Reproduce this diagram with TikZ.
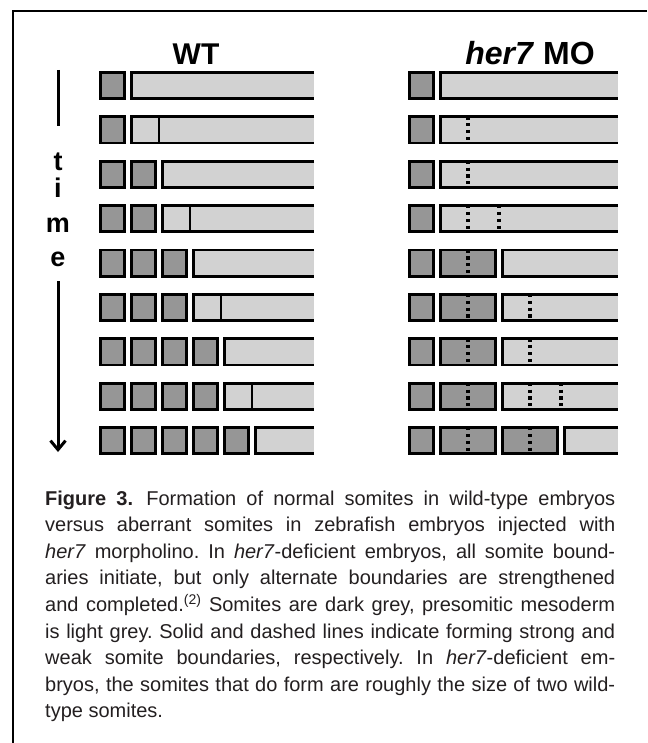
\documentclass[tikz,border=0pt]{standalone}
\usepackage{fontspec}
\setmainfont{Liberation Sans}
\usetikzlibrary{arrows.meta}
\definecolor{somitegrey}{RGB}{150,150,150}
\definecolor{psmgrey}{RGB}{210,210,210}
\definecolor{captext}{RGB}{35,31,32}
\begin{document}
\begin{tikzpicture}[x=1pt,y=-1pt,
  somitebox/.style={draw=black,line width=2.8pt,fill=somitegrey},
  psmline/.style={line width=2.8pt},
  weakline/.style={line width=3.2pt,dash pattern=on 3.2pt off 3.6pt},
  timeline/.style={line width=3pt},
  head/.style={font=\bfseries\fontsize{30}{30}\selectfont,anchor=base,inner sep=0pt},
  letter/.style={font=\bfseries\fontsize{27}{27}\selectfont,anchor=base,inner sep=0pt}]
\useasboundingbox (0,0) rectangle (647,743);
\draw[line width=2.5pt] (647,11) -- (13,11) -- (13,743);
\node[head] (wt) at (196,65) {WT};
\node[head,font=\bfseries\fontsize{32}{32}\selectfont] (mo) at (530,65) {\textit{her7} MO};
\node[letter] (lt) at (58,171) {t};
\node[letter] (li) at (58,198) {i};
\node[letter] (lm) at (58,232) {m};
\node[letter] (le) at (58,266) {e};
\coordinate (top) at (58,70);
\coordinate (topend) at (58,126);
\coordinate (arrstart) at (58,281);
\coordinate (arrend) at (58,452);
\draw[timeline] (top) -- (topend);
\draw[timeline,-{Straight Barb[length=9pt,width=15pt]}] (arrstart) -- (arrend);
\foreach \row in {0,...,8}{
  \pgfmathtruncatemacro\ns{int(\row/2)+1}
  \pgfmathsetmacro\yt{71+44.4*\row}
  \foreach \k in {1,...,\ns}
    \draw[somitebox] ({99+31*(\k-1)+1.4},\yt+1.4) rectangle +(24.2,26.2);
  \pgfmathsetmacro\xs{99+31*\ns}
  \fill[psmgrey] (\xs+1.4,\yt+1.4) rectangle (314,\yt+27.6);
  \draw[psmline] (314,\yt+1.4) -- (\xs+1.4,\yt+1.4) -- (\xs+1.4,\yt+27.6) -- (314,\yt+27.6);
  \ifodd\row
    \draw[psmline] (\xs+29,\yt+1.4) -- +(0,26.2);
  \fi
}
\foreach \row/\nd/\nw in {0/0/0,1/0/1,2/0/1,3/0/2,4/1/0,5/1/1,6/1/1,7/1/2,8/2/0}{
  \pgfmathsetmacro\yt{71+44.4*\row}
  \draw[somitebox] (409.4,\yt+1.4) rectangle +(24.2,26.2);
  \ifnum\nd>0
    \foreach \j in {1,...,\nd}{
      \pgfmathsetmacro\xd{408+31*(2*\j-1)}
      \draw[somitebox] (\xd+1.4,\yt+1.4) rectangle +(55.2,26.2);
      \draw[weakline] (\xd+29,\yt+1) -- +(0,27);
    }
  \fi
  \pgfmathsetmacro\xs{408+31*(2*\nd+1)}
  \fill[psmgrey] (\xs+1.4,\yt+1.4) rectangle (618,\yt+27.6);
  \draw[psmline] (618,\yt+1.4) -- (\xs+1.4,\yt+1.4) -- (\xs+1.4,\yt+27.6) -- (618,\yt+27.6);
  \ifnum\nw>0
    \foreach \m in {1,...,\nw}
      \draw[weakline] (\xs+31*\m-2,\yt+1) -- +(0,27);
  \fi
}
\node[anchor=north west,text width=570pt,align=justify,inner sep=0pt,text=captext,
  font=\fontsize{20}{26.6}\selectfont] (cap) at (45,490.5) {\noindent\sloppy\frenchspacing
\textbf{Figure 3.}\hspace{0.15em} Formation of normal somites in wild-type embryos\linebreak
versus aberrant somites in zebrafish embryos injected with\linebreak
\textit{her7} morpholino. In \textit{her7}-deficient embryos, all somite bound-\linebreak
aries initiate, but only alternate boundaries are strengthened\linebreak
and completed.\textsuperscript{(2)} Somites are dark grey, presomitic mesoderm\linebreak
is light grey. Solid and dashed lines indicate forming strong and\linebreak
weak somite boundaries, respectively. In \textit{her7}-deficient em-\linebreak
bryos, the somites that do form are roughly the size of two wild-\linebreak
type somites.};
\end{tikzpicture}
\end{document}
